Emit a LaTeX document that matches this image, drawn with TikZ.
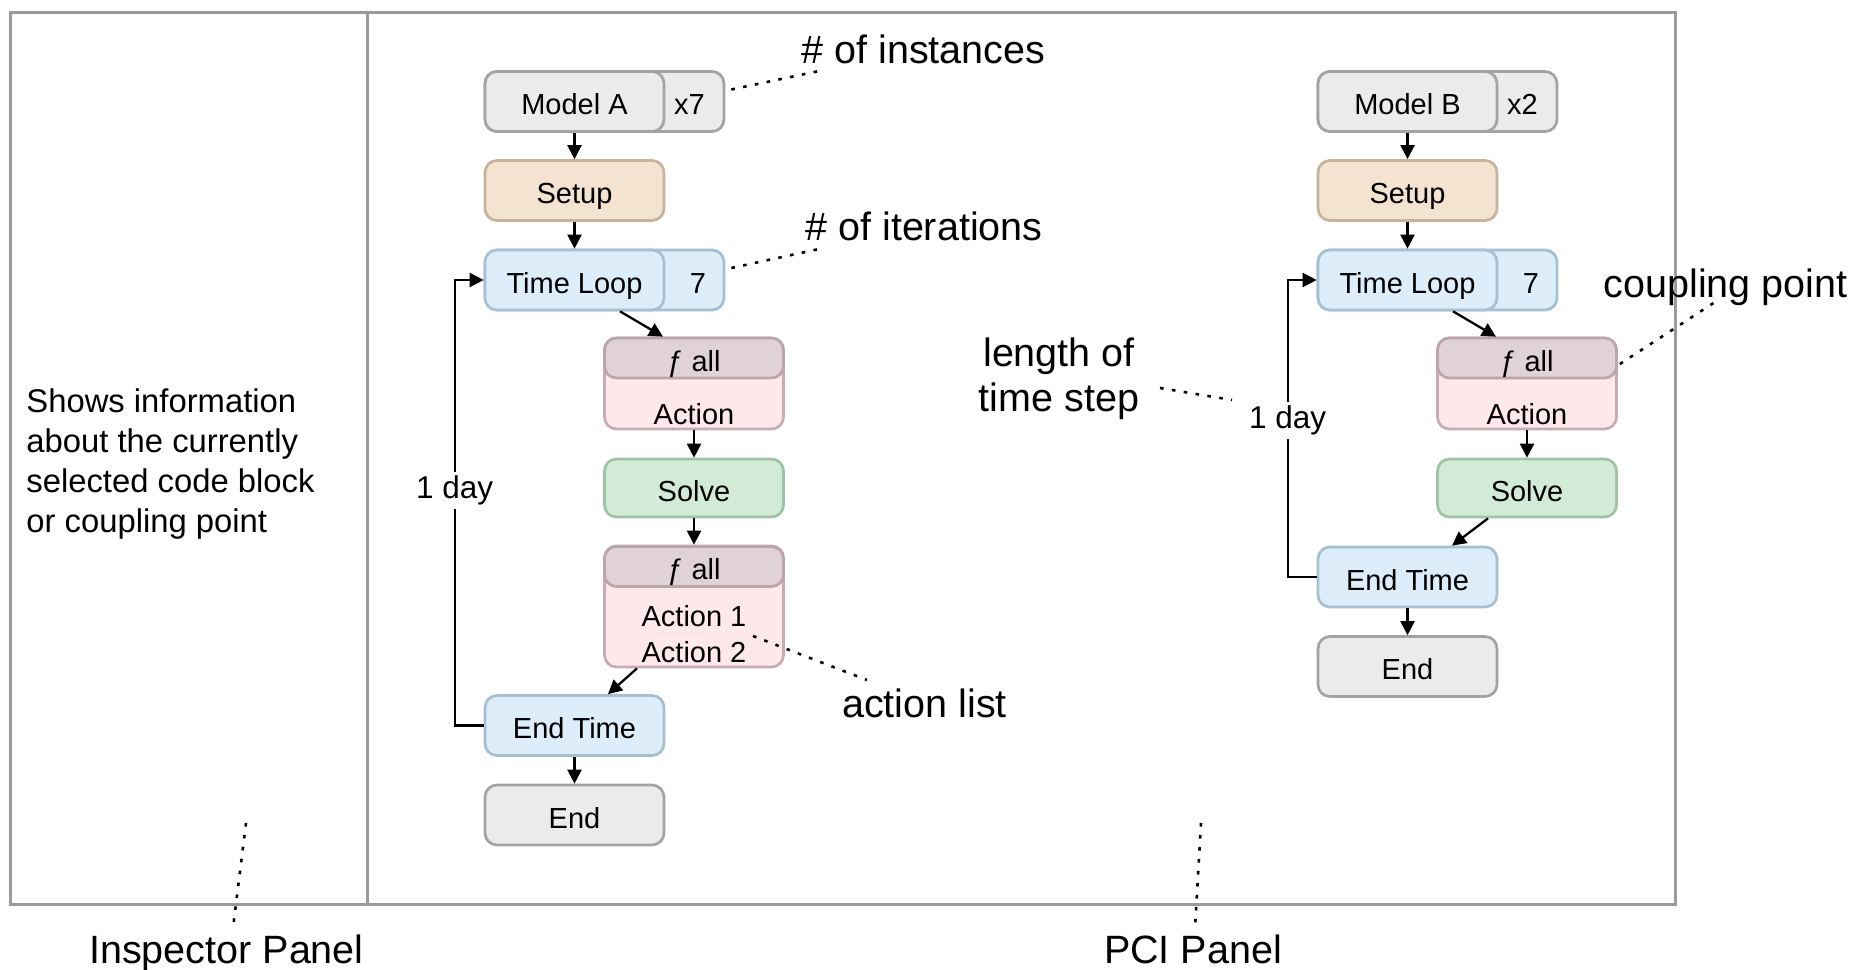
\documentclass[tikz,border=0pt]{standalone}
\usepackage{fontspec}
\setmainfont{Liberation Sans}
\usetikzlibrary{arrows.meta,calc}
\definecolor{gfill}{HTML}{EBEBEB}\definecolor{gline}{HTML}{A3A3A3}
\definecolor{sfill}{HTML}{F3E3D0}\definecolor{sline}{HTML}{C8B39C}
\definecolor{bfill}{HTML}{DDEEFA}\definecolor{bline}{HTML}{A5C0CF}
\definecolor{hfill}{HTML}{E0D2D7}\definecolor{hline}{HTML}{BBA6AC}
\definecolor{pfill}{HTML}{FEE8EC}\definecolor{pline}{HTML}{C6ADB3}
\definecolor{vfill}{HTML}{D2EBD7}\definecolor{vline}{HTML}{A0C3A7}
\definecolor{framec}{HTML}{9B9B9B}
\begin{document}
\begin{tikzpicture}[x=0.5pt,y=-0.5pt,
  nfont/.style={font=\fontsize{14.5}{17}\selectfont},
  box/.style={rounded corners=6pt, line width=1.35pt, inner sep=0pt, nfont,
    text height=13.5pt, text depth=0.5pt, minimum width=89.5pt, minimum height=30pt},
  gbox/.style={box, draw=gline, fill=gfill},
  sbox/.style={box, draw=sline, fill=sfill},
  bbox/.style={box, draw=bline, fill=bfill},
  vbox/.style={box, draw=vline, fill=vfill, minimum height=29pt},
  pbox/.style={box, draw=pline, fill=pfill},
  hbox/.style={box, draw=hline, fill=hfill, minimum height=20pt},
  lbl/.style={inner sep=0pt, nfont, text height=13.5pt, text depth=0.5pt},
  txt/.style={inner sep=0pt, nfont},
  arr/.style={-{Triangle[length=7pt,width=7pt]}, line width=1.15pt},
  loopl/.style={-{Triangle[length=7pt,width=7pt]}, line width=1.15pt},
  dlbl/.style={fill=white, inner sep=2pt, font=\fontsize{15.75}{18}\selectfont},
  dots/.style={line width=1.3pt, dash pattern=on 1.8pt off 4.2pt},
  ann/.style={inner sep=0pt, font=\fontsize{19.75}{22.5}\selectfont},
  panel/.style={draw=framec, line width=1.5pt}]
\useasboundingbox (0,0) rectangle (1855,969);
\fill[white] (0,0) rectangle (1855,969);
\draw[panel] (10.5,12) rectangle (1675,904);
\draw[panel] (367,12) -- (367,904);

% inspector text
\node[inner sep=0pt, anchor=west, align=left, font=\fontsize{16.4}{20}\selectfont] (info) at (26,464.5)
  {Shows information\\about the currently\\selected code block\\or coupling point};

% ---------- column A ----------
\node[gbox, minimum width=119.5pt] (mAo) at (604.5,101.5) {};
\node[gbox] (mA) at (574.5,101.5) {Model A};
\node[lbl] (nA) at (689.5,101.5) {x7};
\node[sbox] (suA) at (574.5,190.5) {Setup};
\node[bbox, minimum width=119.5pt] (tlAo) at (604.5,280) {};
\node[bbox] (tlA) at (574.5,280) {Time Loop};
\node[lbl] (itA) at (698,280) {7};
\node[pbox, minimum height=45.5pt] (faA) at (694,383.5) {};
\node[hbox] (fhA) at (694,358) {ƒ all};
\node[txt, anchor=base] (acA) at (694,424) {Action};
\node[vbox] (svA) at (694,488) {Solve};
\node[pbox, minimum height=60.5pt] (fbA) at (694,606.5) {};
\node[hbox] (fbhA) at (694,566.5) {ƒ all};
\node[txt, anchor=base] (ac1A) at (694,626) {Action 1};
\node[txt, anchor=base] (ac2A) at (694,662) {Action 2};
\node[bbox] (etA) at (574.5,725.5) {End Time};
\node[gbox] (enA) at (574.5,815) {End};

\draw[arr] (mA.south) -- (suA.north);
\draw[arr] (suA.south) -- (tlA.north);
\draw[arr] ([xshift=22.75pt]tlA.south) -- ([xshift=-15.5pt]faA.north);
\draw[arr] (faA.south) -- (svA.north);
\draw[arr] (svA.south) -- (fbA.north);
\draw[arr] ([xshift=-28.5pt]fbA.south) -- ([xshift=16.75pt]etA.north);
\draw[arr] (etA.south) -- (enA.north);
\draw[loopl] (etA.west) -- ++(-29,0) |- node[pos=0.264, dlbl] (dA) {1 day} (tlA.west);

% ---------- column B ----------
\node[gbox, minimum width=119.5pt] (mBo) at (1437.5,101.5) {};
\node[gbox] (mB) at (1407.5,101.5) {Model B};
\node[lbl] (nB) at (1522.5,101.5) {x2};
\node[sbox] (suB) at (1407.5,190.5) {Setup};
\node[bbox, minimum width=119.5pt] (tlBo) at (1437.5,280) {};
\node[bbox] (tlB) at (1407.5,280) {Time Loop};
\node[lbl] (itB) at (1531,280) {7};
\node[pbox, minimum height=45.5pt] (faB) at (1527,383.5) {};
\node[hbox] (fhB) at (1527,358) {ƒ all};
\node[txt, anchor=base] (acB) at (1527,424) {Action};
\node[vbox] (svB) at (1527,488) {Solve};
\node[bbox] (etB) at (1407.5,577) {End Time};
\node[gbox] (enB) at (1407.5,666.5) {End};

\draw[arr] (mB.south) -- (suB.north);
\draw[arr] (suB.south) -- (tlB.north);
\draw[arr] ([xshift=22.75pt]tlB.south) -- ([xshift=-15.5pt]faB.north);
\draw[arr] (faB.south) -- (svB.north);
\draw[arr] ([xshift=-19.5pt]svB.south) -- ([xshift=22.25pt]etB.north);
\draw[arr] (etB.south) -- (enB.north);
\draw[loopl] (etB.west) -- ++(-29,0) |- node[pos=0.264, dlbl] (dB) {1 day} (tlB.west);

% ---------- annotations ----------
\node[ann, anchor=base] (tInst) at (923.5,63) {\# of instances};
\node[ann, anchor=base] (tIter) at (924,240) {\# of iterations};
\node[ann, anchor=base] (tAct) at (924.5,717) {action list};
\node[ann, anchor=base] (tCoup) at (1725.5,297) {coupling point};
\node[ann, align=center] (tLen) at (1059,379) {length of\\time step};
\node[ann, anchor=base] (tInsp) at (226.5,963) {Inspector Panel};
\node[ann, anchor=base] (tPCI) at (1193,963) {PCI Panel};

\coordinate (cInst) at (819,71);
\coordinate (cIter) at (819,249);
\coordinate (cAct0) at (753,636);
\coordinate (cAct1) at (867,680);
\coordinate (cLen0) at (1160,388);
\coordinate (cLen1) at (1232,400);
\coordinate (cCoup) at (1715,302);
\coordinate (cIns0) at (246,823);
\coordinate (cIns1) at (233,928);
\coordinate (cPci0) at (1201,823);
\coordinate (cPci1) at (1195,928);

\draw[dots] ([xshift=3pt,yshift=6pt]mAo.east) -- (cInst);
\draw[dots] ([xshift=3pt,yshift=6pt]tlAo.east) -- (cIter);
\draw[dots] (cAct0) -- (cAct1);
\draw[dots] (cLen0) -- (cLen1);
\draw[dots] ([xshift=1pt,yshift=-3pt]fhB.east) -- (cCoup);
\draw[dots] (cIns0) -- (cIns1);
\draw[dots] (cPci0) -- (cPci1);
\end{tikzpicture}
\end{document}
